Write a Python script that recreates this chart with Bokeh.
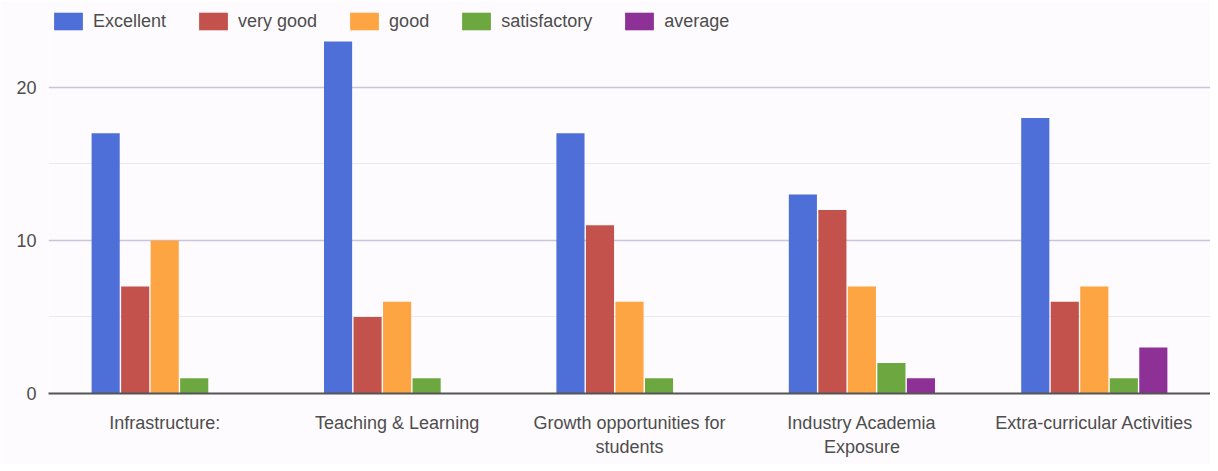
from bokeh.plotting import figure
from bokeh.models import ColumnDataSource, FactorRange, FixedTicker, Range1d, Legend, LegendItem
from bokeh.transform import dodge
from bokeh.embed import file_html
from bokeh.resources import INLINE

categories = ["Infrastructure:", "Teaching & Learning", "Growth opportunities for\nstudents",
              "Industry Academia\nExposure", "Extra-curricular Activities"]
series_names = ["Excellent", "very good", "good", "satisfactory", "average"]
excellent = [17, 23, 17, 13, 18]
very_good = [7, 5, 11, 12, 6]
good = [10, 6, 6, 7, 7]
satisfactory = [1, 1, 1, 2, 1]
average = [0, 0, 0, 1, 3]
y_ticks = [0, 10, 20]
y_minor = [5, 15]

colors = ["#4f6fd8", "#c4524c", "#fda443", "#6ca83f", "#8e3196"]
FONT = "Liberation Sans"
TXT = "#4d4d4d"

src = ColumnDataSource(dict(cat=categories, Excellent=excellent, very_good=very_good,
                            good=good, satisfactory=satisfactory, average=average))
cols = ["Excellent", "very_good", "good", "satisfactory", "average"]

p = figure(x_range=FactorRange(*categories), y_range=Range1d(0, 25.16),
           width=1210, height=464, output_backend="svg", toolbar_location=None,
           min_border_left=48, min_border_right=0, min_border_top=8, min_border_bottom=71)
p.background_fill_color = "#fdfbfd"
p.border_fill_color = "#fdfbfd"
p.outline_line_color = None

step = 0.127
renderers = []
for i, (c, col) in enumerate(zip(cols, colors)):
    r = p.vbar(x=dodge("cat", (i - 2) * step, range=p.x_range), top=c, source=src,
               width=0.121, fill_color=col, line_color=None)
    renderers.append(r)

legend = Legend(items=[LegendItem(label=n, renderers=[r]) for n, r in zip(series_names, renderers)],
                orientation="horizontal", location="top_left", margin=2, padding=0,
                spacing=29, label_standoff=7, glyph_width=36, glyph_height=22,
                label_text_font=FONT, label_text_font_size="18px", label_text_color=TXT,
                background_fill_alpha=0, border_line_color=None)
p.add_layout(legend)

p.yaxis.ticker = FixedTicker(ticks=y_ticks, minor_ticks=y_minor)
p.yaxis.axis_line_color = None
p.yaxis.major_tick_line_color = None
p.yaxis.minor_tick_line_color = None
p.yaxis.major_label_text_font = FONT
p.yaxis.major_label_text_font_size = "18px"
p.yaxis.major_label_text_color = TXT
p.yaxis.major_label_standoff = 6

p.ygrid.grid_line_color = "#cac3dc"
p.ygrid.grid_line_width = 1.5
p.ygrid.minor_grid_line_color = "#ece8f0"
p.xgrid.grid_line_color = None

p.xaxis.axis_line_color = "#555555"
p.xaxis.axis_line_width = 2
p.xaxis.major_tick_line_color = None
p.xaxis.minor_tick_line_color = None
p.xaxis.major_label_text_font = FONT
p.xaxis.major_label_text_font_size = "18px"
p.xaxis.major_label_text_color = TXT
p.xaxis.major_label_standoff = 13
p.x_range.range_padding = 0

open("out.html", "w").write(file_html(p, INLINE))
